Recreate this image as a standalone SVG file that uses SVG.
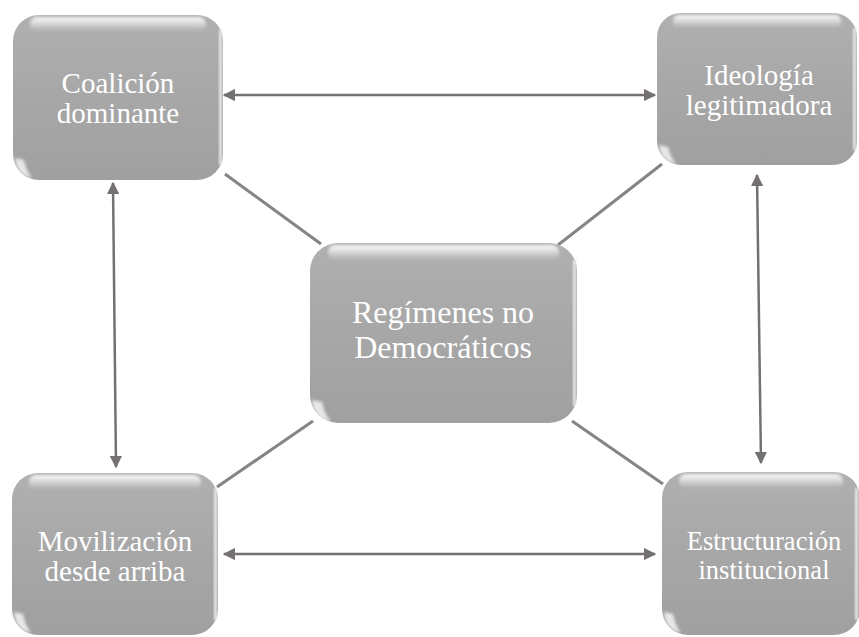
<svg xmlns="http://www.w3.org/2000/svg" width="859" height="637" viewBox="0 0 859 637">
<style>
.box{fill:url(#g)}
.hl{fill:url(#hg);filter:url(#b)}
.cn{fill:#ffffff;opacity:0.75;filter:url(#b)}
.t{font-family:"Liberation Serif","Times New Roman",serif;fill:#ffffff;text-anchor:middle}
.arr{stroke:#767171;stroke-width:2.5;fill:none;marker-start:url(#m);marker-end:url(#m)}
.ln{stroke:#858585;stroke-width:3;fill:none}
</style>
<defs>
<linearGradient id="g" x1="0" y1="0" x2="0" y2="1">
<stop offset="0" stop-color="#b0b0b0"/>
<stop offset="0.5" stop-color="#a7a7a7"/>
<stop offset="1" stop-color="#a0a0a0"/>
</linearGradient>
<linearGradient id="hg" x1="0" y1="0" x2="0" y2="1">
<stop offset="0" stop-color="#ffffff" stop-opacity="0.95"/>
<stop offset="1" stop-color="#ffffff" stop-opacity="0"/>
</linearGradient>
<filter id="b" x="-20%" y="-50%" width="140%" height="200%"><feGaussianBlur stdDeviation="1.5"/></filter>
<filter id="s" x="-10%" y="-10%" width="120%" height="120%"><feGaussianBlur stdDeviation="1"/></filter>
<marker id="m" viewBox="0 0 10 10" refX="9" refY="5" markerWidth="5" markerHeight="5" orient="auto-start-reverse" markerUnits="strokeWidth">
<path d="M0,0 L10,5 L0,10 Z" fill="#767171"/>
</marker>
</defs>
<g id="connectors">
<line class="ln" x1="225" y1="174" x2="321" y2="244"/>
<line class="ln" x1="558" y1="245" x2="662" y2="164"/>
<line class="ln" x1="217" y1="487" x2="313" y2="421"/>
<line class="ln" x1="572" y1="421" x2="663" y2="484"/>
<line class="arr" x1="224" y1="95" x2="655" y2="95"/>
<line class="arr" x1="113" y1="183" x2="116" y2="467"/>
<line class="arr" x1="757" y1="175" x2="761" y2="463"/>
<line class="arr" x1="224" y1="554" x2="655" y2="554"/>
</g>
<g id="n-coalicion">
<rect class="box" x="13" y="15" width="210" height="165" rx="26"/>
<rect x="219" y="30" width="3" height="135" fill="#e6e6e6" filter="url(#s)"/>
<rect class="hl" x="30" y="17" width="176" height="14" rx="7"/>
<path class="cn" d="M15,158 Q16,175 32,178 Q26,170 24,160 Z"/>
<text class="t" x="118" y="93" font-size="29">Coalición</text>
<text class="t" x="118" y="123" font-size="29">dominante</text>
</g>
<g id="n-ideologia">
<rect class="box" x="657" y="13" width="200" height="152" rx="24"/>
<rect x="853" y="28" width="3" height="122" fill="#e6e6e6" filter="url(#s)"/>
<rect class="hl" x="673" y="15" width="168" height="13" rx="6"/>
<path class="cn" d="M659,145 Q660,161 676,164 Q670,156 668,147 Z"/>
<text class="t" x="759" y="85" font-size="29">Ideología</text>
<text class="t" x="759" y="115" font-size="29">legitimadora</text>
</g>
<g id="n-regimenes">
<rect class="box" x="310" y="243" width="267" height="180" rx="28"/>
<rect x="573" y="260" width="3" height="146" fill="#e6e6e6" filter="url(#s)"/>
<rect class="hl" x="328" y="245" width="231" height="15" rx="7"/>
<path class="cn" d="M312,400 Q313,419 331,422 Q324,413 322,402 Z"/>
<text class="t" x="443" y="323" font-size="32">Regímenes no</text>
<text class="t" x="443" y="358" font-size="32">Democráticos</text>
</g>
<g id="n-movilizacion">
<rect class="box" x="12" y="473" width="206" height="162" rx="26"/>
<rect x="214" y="488" width="3" height="132" fill="#e6e6e6" filter="url(#s)"/>
<rect class="hl" x="29" y="475" width="172" height="14" rx="7"/>
<path class="cn" d="M14,612 Q15,630 31,633 Q25,625 23,614 Z"/>
<text class="t" x="115" y="551" font-size="29">Movilización</text>
<text class="t" x="115" y="581" font-size="29">desde arriba</text>
</g>
<g id="n-estructuracion">
<rect class="box" x="662" y="472" width="198" height="163" rx="26"/>
<rect x="855" y="488" width="3" height="132" fill="#e6e6e6" filter="url(#s)"/>
<rect class="hl" x="679" y="474" width="164" height="14" rx="7"/>
<path class="cn" d="M664,612 Q665,630 681,633 Q675,625 673,614 Z"/>
<text class="t" x="764" y="550" font-size="26.5">Estructuración</text>
<text class="t" x="764" y="579" font-size="26.5">institucional</text>
</g>
</svg>
